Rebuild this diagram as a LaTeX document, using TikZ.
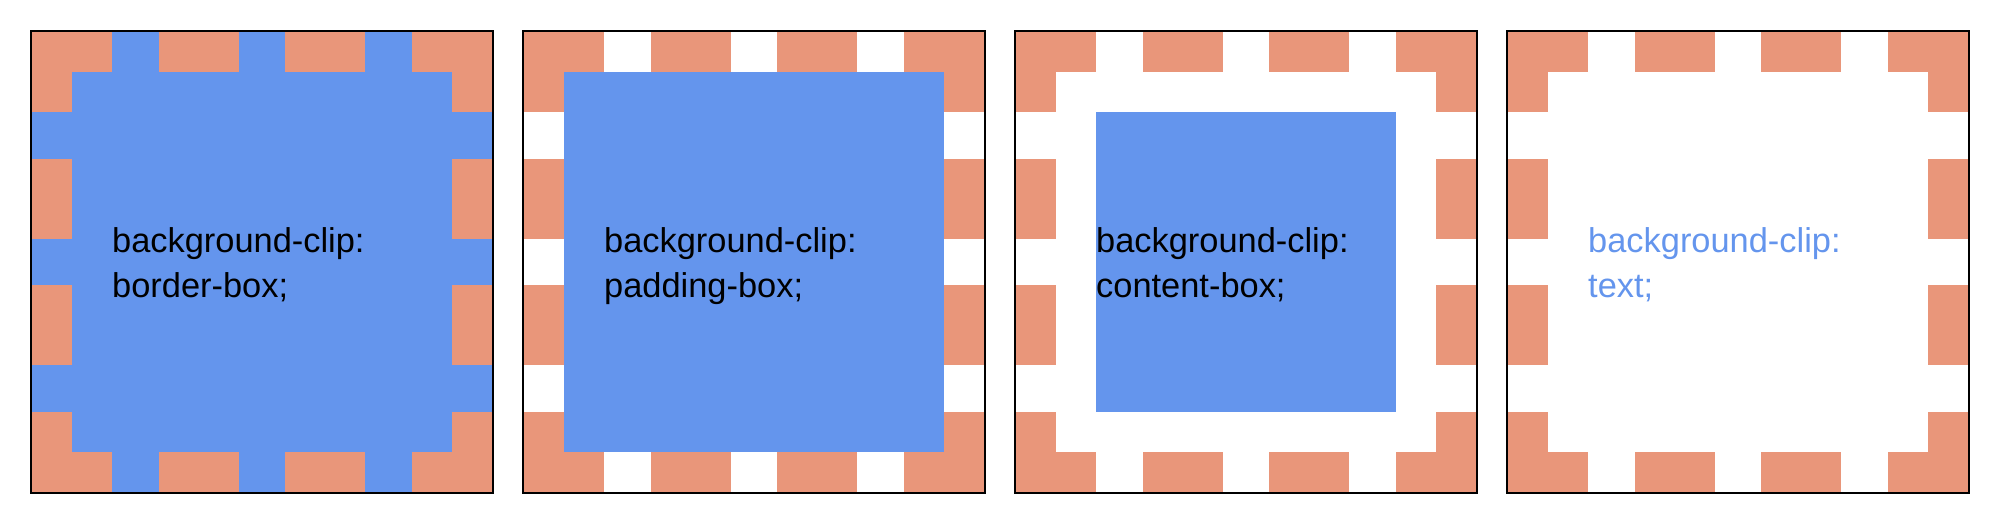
\documentclass[tikz,border=0pt]{standalone}
\usepackage{fontspec}
\setmainfont{Liberation Sans}
\usetikzlibrary{positioning}
\definecolor{dsalmon}{RGB}{233,150,122}
\definecolor{cblue}{RGB}{100,149,237}
\tikzset{
  dashpiece/.style={fill=dsalmon},
  frame/.style={draw=black, line width=1.6pt},
  cliplabel/.style={anchor=base west, inner sep=0pt, font=\fontsize{34.4}{40}\selectfont}
}
\begin{document}
\begin{tikzpicture}[x=1pt, y=-1pt]
\useasboundingbox (0,0) rectangle (2004,528);
\foreach \ox/\ins/\fc/\tc/\word [count=\i] in {32/0/cblue/black/border-box,524/40/cblue/black/padding-box,1016/80/cblue/black/content-box,1508/0/none/cblue/text} {
  \begin{scope}[shift={(\ox,32)}]
  % background painted up to the clip edge
  \path[fill=\fc] (\ins,\ins) rectangle (460-\ins,460-\ins);
  \foreach \k in {0,...,3} {
    \fill[dashpiece] ({\k*380/3},0) rectangle +(80,40);
    \fill[dashpiece] ({\k*380/3},420) rectangle +(80,40);
    \fill[dashpiece] (0,{\k*380/3}) rectangle +(40,80);
    \fill[dashpiece] (420,{\k*380/3}) rectangle +(40,80); }
  \draw[frame] (-0.8,-0.8) rectangle (460.8,460.8);
  \node[cliplabel, text=\tc] (clip\i) at (80,220.8) {background-clip:};
  \node[cliplabel, text=\tc] (value\i) at (80,265.5) {\word;};
  \end{scope}
}
\end{tikzpicture}
\end{document}
